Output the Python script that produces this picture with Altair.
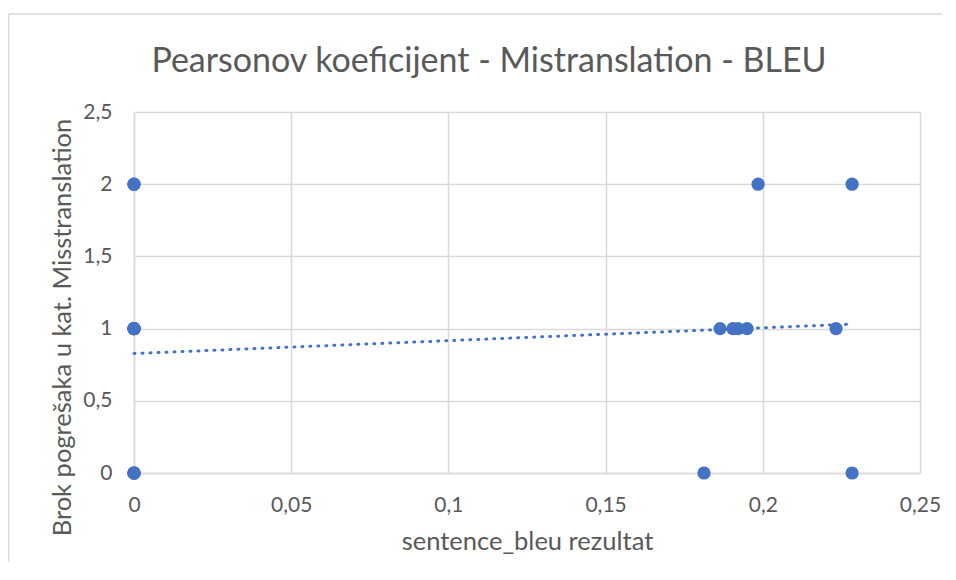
import altair as alt
import pandas as pd

# x = sentence_bleu rezultat, y = Brok pogrešaka u kat. Misstranslation
bleu = [0, 0, 0, 0, 0, 0, 0, 0, 0, 0, 0, 0,
        0.1813, 0.1864, 0.1905, 0.1921, 0.1950, 0.1985, 0.2233, 0.2284, 0.2284]
errors = [2, 2, 1, 1, 1, 1, 1, 1, 0, 0, 0, 0,
          0, 1, 1, 1, 1, 2, 1, 2, 0]

x_ticks = [0, 0.05, 0.1, 0.15, 0.2, 0.25]
y_ticks = [0, 0.5, 1, 1.5, 2, 2.5]

df = pd.DataFrame({"bleu": bleu, "err": errors})

FONT = "Lato"
BLUE = "#4472C4"
GRID = "#d9d9d9"
TXT = "#595959"

label_expr = "replace(toString(datum.value), '.', ',')"

x_enc = alt.X(
    "bleu:Q",
    scale=alt.Scale(domain=[0, 0.25], nice=False, zero=False),
    axis=alt.Axis(
        values=x_ticks, labelExpr=label_expr, title="sentence_bleu rezultat",
        ticks=False, labelPadding=21, titlePadding=14, labelFlush=False,
        domainColor=GRID, domainWidth=1.5, gridColor=GRID, gridWidth=1.5,
        labelColor=TXT, titleColor=TXT, labelFont=FONT, titleFont=FONT,
        labelFontSize=21, titleFontSize=25.5, titleFontWeight="normal",
    ),
)
y_enc = alt.Y(
    "err:Q",
    scale=alt.Scale(domain=[0, 2.5], nice=False, zero=False),
    axis=alt.Axis(
        values=y_ticks, labelExpr=label_expr,
        title="Brok pogrešaka u kat. Misstranslation",
        ticks=False, labelPadding=22, labelFlush=False,
        titleX=-72, titleY=215, titleAngle=270, titleAlign="center",
        titleBaseline="middle",
        domainColor=GRID, domainWidth=1.5, gridColor=GRID, gridWidth=1.5,
        labelColor=TXT, titleColor=TXT, labelFont=FONT, titleFont=FONT,
        labelFontSize=21, titleFontSize=25.5, titleFontWeight="normal",
    ),
)

frame_src = alt.Data(values=[{"a": 1}])
border_top = alt.Chart(frame_src).mark_rule(
    color=GRID, strokeWidth=1.5, clip=False
).encode(x=alt.value(-125.5), x2=alt.value(808), y=alt.value(-98))
border_left = alt.Chart(frame_src).mark_rule(
    color=GRID, strokeWidth=1.5, clip=False
).encode(x=alt.value(-125.5), y=alt.value(-98), y2=alt.value(450))

points = alt.Chart(df).mark_circle(size=175, color=BLUE, opacity=1).encode(
    x=x_enc, y=y_enc
)

trend = alt.Chart(df).transform_regression("bleu", "err").mark_line(
    color=BLUE, strokeWidth=3, strokeDash=[1, 7], strokeCap="round"
).encode(x="bleu:Q", y="err:Q")

chart = alt.layer(border_top, border_left, points, trend).properties(
    width=786,
    height=361,
    autosize=alt.AutoSizeParams(type="none"),
    padding={"left": 126, "top": 104, "right": 24, "bottom": 90},
    title=alt.TitleParams(
        "Pearsonov koeficijent - Mistranslation - BLEU",
        font=FONT, fontSize=34, fontWeight="normal", color=TXT,
        anchor="middle", offset=0, dy=66, dx=-38,
    ),
).configure_view(stroke=None)

chart.save("out.html", embed_options={"renderer": "svg", "actions": False})
